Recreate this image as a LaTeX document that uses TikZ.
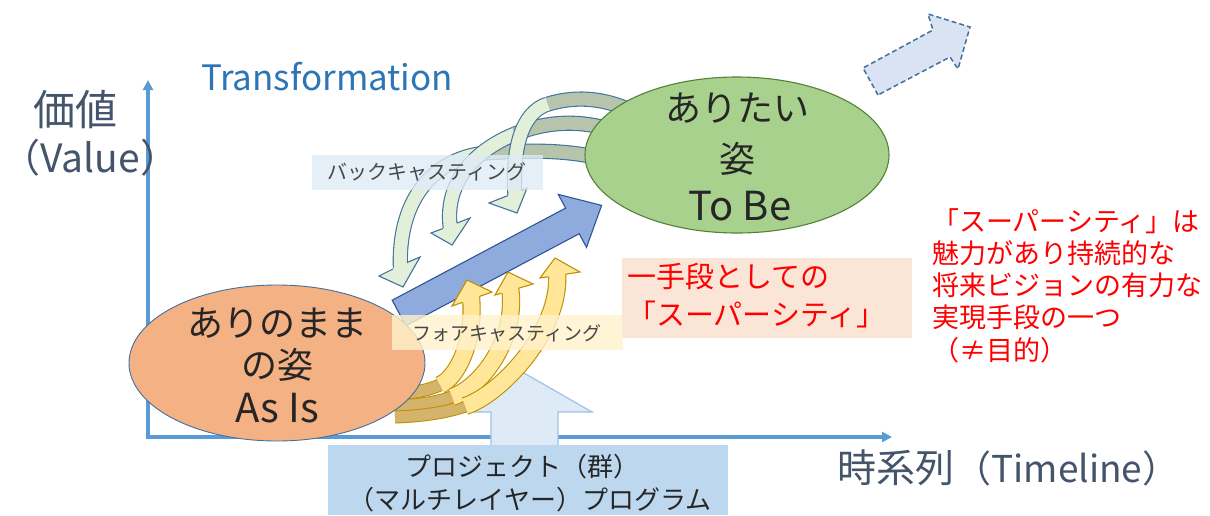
\documentclass[tikz,border=0pt]{standalone}
\usepackage{fontspec}
\setmainfont{Noto Sans CJK JP}
\usetikzlibrary{calc,shapes.geometric,arrows.meta}
\definecolor{axisc}{HTML}{5B9BD5}
\definecolor{navy}{HTML}{44546A}
\definecolor{transc}{HTML}{2E75B6}
\definecolor{orangef}{HTML}{F4B183}
\definecolor{greenf}{HTML}{A9D18E}
\definecolor{greenb}{HTML}{548235}
\definecolor{bluef}{HTML}{8FAADC}
\definecolor{blueb}{HTML}{2F5597}
\definecolor{bb}{HTML}{41719C}
\definecolor{bf}{HTML}{E2F0D9}
\definecolor{bd}{HTML}{B7C4AC}
\definecolor{yb}{HTML}{BF9000}
\definecolor{yf}{HTML}{FFE699}
\definecolor{yd}{HTML}{D4B46A}
\definecolor{lightblue}{HTML}{DEEBF7}
\definecolor{upb}{HTML}{9DC3E6}
\definecolor{boxblue}{HTML}{BDD7EE}
\definecolor{lightyel}{HTML}{FFF2CC}
\definecolor{pinkf}{HTML}{FBE5D6}
\definecolor{dashf}{HTML}{DAE3F3}
\definecolor{txt}{HTML}{262626}
\newcommand\arrhead[7]{%
  \fill[#5] #1 -- #2 -- #3 -- cycle;
  \draw[#6, line width=1.1pt, line join=miter] ($#4!#7!#1$) -- #1 -- #2 -- #3 -- ($#4!#7!#3$);
}
\begin{document}
\begin{tikzpicture}[x=1pt,y=-1pt,
  axis/.style={draw=axisc, line width=3.2pt, -{Triangle[length=10pt,width=10pt]}},
  bshaft/.style={draw=bb, line width=1.1pt, double=bf, double distance=13pt},
  bback/.style={draw=bb, line width=1.1pt, double=bd, double distance=13pt},
  yshaft/.style={draw=yb, line width=1.1pt, double=yf, double distance=16pt},
  yback/.style={draw=yb, line width=1pt, double=yd, double distance=11pt},
  big/.style={font=\fontsize{36}{44}\selectfont, text=txt},
  latin/.style={font=\fontsize{40}{44}\selectfont, text=txt},
  lbl/.style={font=\fontsize{20}{24}\selectfont, text=txt!85},
]
\useasboundingbox (0,0) rectangle (1210,515);
\fill[white] (0,0) rectangle (1210,515);

% axes
\coordinate (origin) at (148,437);
\coordinate (yend) at (148,80);
\coordinate (xend) at (892,437);
\draw[axis] (origin) -- (yend);
\draw[axis] ($(origin)+(-1.6,0)$) -- (xend);

% axis labels
\node[font=\fontsize{35}{44}\selectfont, text=transc] (trans) at (327,77) {Transformation};
\node[font=\fontsize{42}{48}\selectfont, text=navy] (value1) at (75,110) {価値};
\node[font=\fontsize{39}{48}\selectfont, text=navy, anchor=west, inner sep=0pt] (value2) at (1,158) {（Value）};
\node[text=navy, anchor=west] (timeline) at (834,468) {\fontsize{39}{48}\selectfont 時系列\fontsize{37}{48}\selectfont（Timeline）};

% upward block arrow and project box
\draw[fill=lightblue, draw=upb, line width=1.2pt] (491,447) -- (491,412) -- (457,412) -- (524,373) -- (592,412) -- (558,412) -- (558,447);
\fill[boxblue] (328,445) rectangle (728,515);
\node[font=\fontsize{26}{30}\selectfont, text=txt] (proj1) at (522,467) {プロジェクト（群）};
\node[font=\fontsize{26}{30}\selectfont, text=txt] (proj2) at (530,500) {（マルチレイヤー）プログラム};

% backcasting arrows: dark backs
\draw[bback] (600,158) .. controls (565,150) and (530,150) .. (485,153);
\draw[bback] (605,128) .. controls (575,120) and (545,122) .. (515,134);
\draw[bback] (625,108) .. controls (600,98) and (575,96) .. (548,104);
% light parts
\draw[bshaft] (485,153) .. controls (428,160) and (398,205) .. (400.4,268);
\arrhead{(379,276)}{(403,287)}{(420,257)}{(400,265.5)}{bf}{bb}{7.6pt}
\draw[bshaft] (515,134) .. controls (485,146) and (443,175) .. (450.4,229);
\arrhead{(431,233)}{(452,245)}{(470,218)}{(450,225.8)}{bf}{bb}{7.6pt}
\draw[bshaft] (548,104) .. controls (521,112) and (512,150) .. (515,196);
\arrhead{(489,203)}{(517,213)}{(527,188)}{(515,192.8)}{bf}{bb}{7.6pt}

% big blue arrow
\draw[fill=bluef, draw=blueb, line width=1.1pt, line join=miter]
  (392.2,300.2) -- (565.6,208.1) -- (558.3,194.4) -- (601.6,205.4) -- (586.5,247.4) -- (579.2,233.7) -- (405.8,325.8) -- cycle;

% forecasting arrows: dark backs
\draw[yback] (395,394) .. controls (415,393) and (428,390) .. (440,385);
\draw[yback] (395,406) .. controls (420,405) and (438,402) .. (452,397);
\draw[yback] (395,417) .. controls (425,416) and (448,412) .. (465,406);
% light parts
\draw[yshaft] (440,385) .. controls (458,377) and (475,340) .. (471,296);
\arrhead{(452,306)}{(467,280)}{(492,292)}{(471,299.4)}{yf}{yb}{9pt}
\draw[yshaft] (452,397) .. controls (480,388) and (518,340) .. (510,287);
\arrhead{(495,295)}{(508,272)}{(533,284)}{(510,290.7)}{yf}{yb}{9pt}
\draw[yshaft] (465,406) .. controls (500,395) and (562,330) .. (557,272);
\arrhead{(540,278)}{(555,258)}{(580,272)}{(557,275.5)}{yf}{yb}{9pt}

% ellipses
\node[ellipse, fill=orangef, draw=bb, line width=0.9pt, minimum width=296pt, minimum height=156pt, inner sep=0pt] (asis) at (277,363) {};
\node[big] (asis1) at (277,323) {ありのまま};
\node[big] (asis2) at (277,365) {の姿};
\node[latin] (asis3) at (277,408) {As Is};
\node[ellipse, fill=greenf, draw=greenb, line width=1.1pt, minimum width=304pt, minimum height=156pt, inner sep=0pt] (tobe) at (737,155) {};
\node[big] (tobe1) at (737,108) {ありたい};
\node[big] (tobe2) at (737,159) {姿};
\node[latin] (tobe3) at (740,206) {To Be};

% label boxes
\fill[lightblue, fill opacity=0.8] (312,155) rectangle (543,190);
\node[lbl] (back) at (427,172) {バックキャスティング};
\fill[lightyel, fill opacity=0.8] (392,315) rectangle (623,350);
\node[lbl, font=\fontsize{19}{24}\selectfont] (fore) at (507,333) {フォアキャスティング};

% pink box
\fill[pinkf] (622,258) rectangle (912,338);
\node[font=\fontsize{29}{38}\selectfont, text=red, align=left, anchor=west, inner sep=0pt] (means) at (627,296) {一手段としての\\「スーパーシティ」};

% red note
\node[font=\fontsize{27}{32}\selectfont, text=red, align=left, anchor=north west, inner sep=0pt] (note) at (932,208) {「スーパーシティ」は\\魅力があり持続的な\\将来ビジョンの有力な\\実現手段の一つ\\[1.5pt]（≠目的）};

% dashed future arrow
\draw[fill=dashf, draw=bb, line width=1.5pt, dash pattern=on 5pt off 3pt, line join=miter]
  (878,95) -- (863,68) -- (933,30) -- (928,14) -- (970,27) -- (958,69) -- (950,57) -- cycle;
\end{tikzpicture}
\end{document}
